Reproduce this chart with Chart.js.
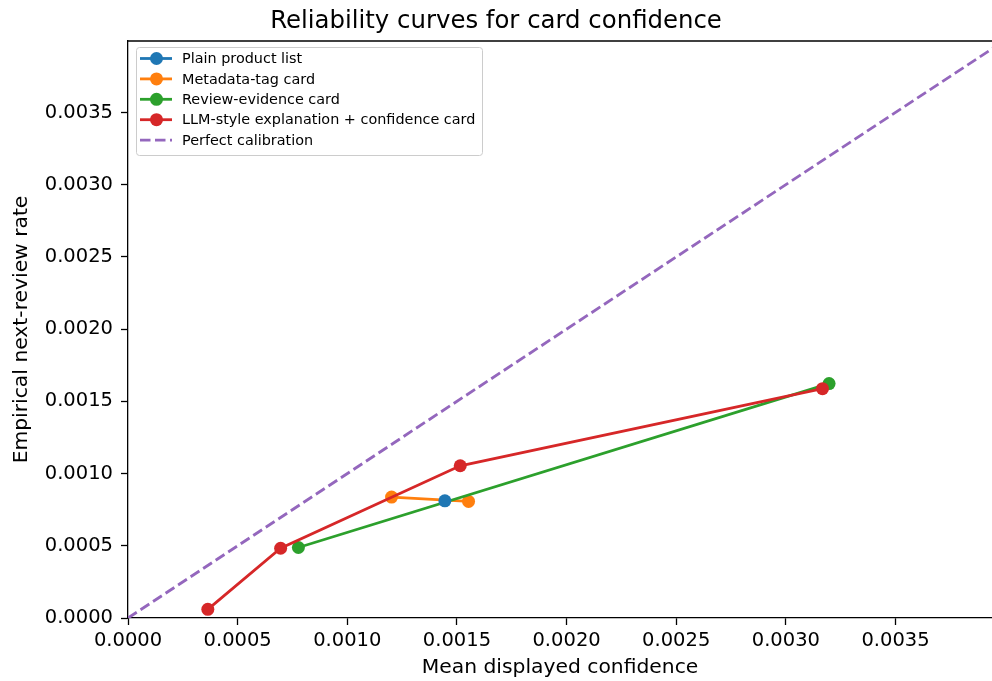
<!DOCTYPE html>
<html>
<head>
<meta charset="utf-8">
<script src="https://cdn.jsdelivr.net/npm/chart.js@4.4.1/dist/chart.umd.min.js"></script>
<style>
  html, body { margin: 0; padding: 0; background: #fff; }
  #wrap { width: 992px; height: 681px; }
</style>
</head>
<body>
<div id="wrap"><canvas id="reliabilityChart" width="992" height="681"></canvas></div>
<script>
// Series values (mean displayed confidence vs empirical next-review rate)
const plainX = [0.001445];
const plainY = [0.000811];
const metaX = [0.001202, 0.001553];
const metaY = [0.000837, 0.000807];
const reviewX = [0.000777, 0.003197];
const reviewY = [0.000488, 0.001623];
const llmX = [0.000364, 0.000696, 0.001515, 0.003167];
const llmY = [0.000060, 0.000483, 0.001054, 0.001588];
const perfectX = [0, 0.004];
const perfectY = [0, 0.004];

const seriesNames = [
    'Plain product list',
    'Metadata-tag card',
    'Review-evidence card',
    'LLM-style explanation + confidence card',
    'Perfect calibration'
];
const seriesColors = ['#1f77b4', '#ff7f0e', '#2ca02c', '#d62728', '#9467bd'];

const xMax = 0.00394;
const yMax = 0.003995;
const tickStep = 0.0005;

const FONT = "'DejaVu Sans', sans-serif";

function toPoints(xs, ys) {
    return xs.map(function(x, i) { return {x: x, y: ys[i]}; });
}

function lineSet(idx, xs, ys, order) {
    return {
        label: seriesNames[idx],
        data: toPoints(xs, ys),
        showLine: true,
        borderColor: seriesColors[idx],
        backgroundColor: seriesColors[idx],
        borderWidth: 2.8,
        pointRadius: 6.5,
        pointHoverRadius: 6.5,
        pointBorderWidth: 0,
        order: order
    };
}

// Top spine (the right one falls just outside the figure in the original)
const frameBox = {
    id: 'frameBox',
    afterDatasetsDraw(chart) {
        const a = chart.chartArea;
        const ctx = chart.ctx;
        ctx.save();
        ctx.strokeStyle = '#000';
        ctx.lineWidth = 1.3;
        ctx.beginPath();
        ctx.moveTo(a.left, a.top);
        ctx.lineTo(a.right, a.top);
        ctx.stroke();
        ctx.restore();
    }
};

// Legend drawn inside the plot, upper left
const innerLegend = {
    id: 'innerLegend',
    afterDraw(chart) {
        const ctx = chart.ctx;
        const bx = 136, by = 47, bw = 346, bh = 108;
        ctx.save();
        ctx.fillStyle = 'rgba(255,255,255,0.85)';
        ctx.strokeStyle = '#cccccc';
        ctx.lineWidth = 1;
        ctx.beginPath();
        ctx.roundRect(bx + 0.5, by + 0.5, bw, bh, 3);
        ctx.fill();
        ctx.stroke();

        ctx.font = '14.4px ' + FONT;
        ctx.textBaseline = 'middle';
        chart.data.datasets.forEach(function(ds, i) {
            const cy = 58.5 + i * 20.4;
            ctx.strokeStyle = ds.borderColor;
            ctx.lineWidth = 2.8;
            ctx.setLineDash(ds.borderDash || []);
            ctx.beginPath();
            ctx.moveTo(140, cy);
            ctx.lineTo(172, cy);
            ctx.stroke();
            ctx.setLineDash([]);
            if (ds.pointRadius > 0) {
                ctx.fillStyle = ds.backgroundColor;
                ctx.beginPath();
                ctx.arc(156.5, cy, 6.5, 0, Math.PI * 2);
                ctx.fill();
            }
            ctx.fillStyle = '#000';
            ctx.fillText(ds.label, 182, cy + 1);
        });
        ctx.restore();
    }
};

const ctx = document.getElementById('reliabilityChart').getContext('2d');
const reliabilityChart = new Chart(ctx, {
    type: 'scatter',
    data: {
        datasets: [
            lineSet(0, plainX, plainY, 1),
            lineSet(1, metaX, metaY, 3),
            lineSet(2, reviewX, reviewY, 2),
            lineSet(3, llmX, llmY, 0),
            {
                label: seriesNames[4],
                data: toPoints(perfectX, perfectY),
                showLine: true,
                borderColor: seriesColors[4],
                backgroundColor: seriesColors[4],
                borderWidth: 2.8,
                borderDash: [10.5, 4.5],
                pointRadius: 0,
                pointHoverRadius: 0,
                order: 4
            }
        ]
    },
    options: {
        responsive: false,
        animation: false,
        devicePixelRatio: 1,
        layout: { padding: 0, autoPadding: false },
        plugins: {
            legend: { display: false },
            tooltip: { enabled: false },
            title: {
                display: true,
                text: 'Reliability curves for card confidence',
                color: '#000',
                font: { family: FONT, size: 24.4, weight: 'normal' },
                padding: { top: 7, bottom: 4.7 }
            }
        },
        scales: {
            x: {
                type: 'linear',
                min: 0,
                max: xMax,
                afterFit: function(scale) {
                    scale.height = 63;
                    scale.paddingRight = 0;
                },
                grid: { drawOnChartArea: false, tickLength: 7, tickColor: '#000', tickWidth: 1.3 },
                border: { color: '#000', width: 1.3 },
                ticks: {
                    stepSize: tickStep,
                    includeBounds: false,
                    autoSkip: false,
                    maxRotation: 0,
                    padding: 4,
                    color: '#000',
                    font: { family: FONT, size: 19.5 },
                    callback: function(value) { return value.toFixed(4); }
                },
                title: {
                    display: true,
                    text: 'Mean displayed confidence',
                    color: '#000',
                    font: { family: FONT, size: 20.3 },
                    padding: { top: 1, bottom: 1 }
                }
            },
            y: {
                type: 'linear',
                min: 0,
                max: yMax,
                afterFit: function(scale) { scale.width = 128; },
                grid: { drawOnChartArea: false, tickLength: 7, tickColor: '#000', tickWidth: 1.3 },
                border: { color: '#000', width: 1.3 },
                ticks: {
                    stepSize: tickStep,
                    includeBounds: false,
                    autoSkip: false,
                    padding: 8,
                    color: '#000',
                    font: { family: FONT, size: 19.5 },
                    callback: function(value) { return value.toFixed(4); }
                },
                title: {
                    display: true,
                    text: 'Empirical next-review rate',
                    color: '#000',
                    font: { family: FONT, size: 20.3 },
                    padding: { top: 10, bottom: 2 }
                }
            }
        }
    },
    plugins: [frameBox, innerLegend]
});
</script>
</body>
</html>
